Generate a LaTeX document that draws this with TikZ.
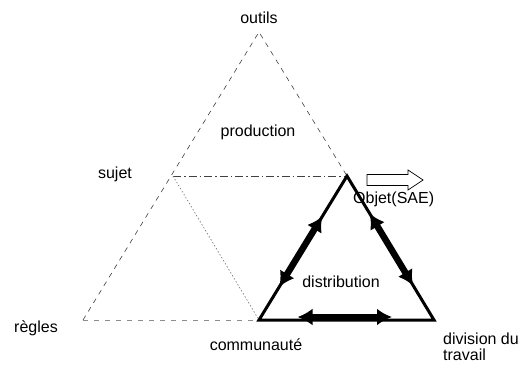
\documentclass[tikz,border=0pt]{standalone}
\usepackage{fontspec}
\setmainfont{Liberation Sans}
\usetikzlibrary{arrows.meta,calc}
\begin{document}
\begin{tikzpicture}[x=1pt,y=-1pt,
  lbl/.style={font=\fontsize{16}{18}\selectfont, inner sep=0pt},
  thin line/.style={draw=black!75, line width=0.6pt},
  dashline/.style={thin line, dash pattern=on 5pt off 5pt},
  greydash/.style={draw=black!45, line width=0.8pt, dash pattern=on 5pt off 6pt},
  dashdot/.style={thin line, dash pattern=on 8pt off 3pt on 1.5pt off 3pt},
  dotline/.style={draw=black!55, line width=0.6pt, dash pattern=on 1.5pt off 2pt},
  heavy/.style={draw=black, line width=3pt, line join=miter},
  dblarrow/.style={draw=black, line width=6.5pt, {Latex[length=15pt,width=17pt]}-{Latex[length=15pt,width=17pt]}},
  hollow/.style={draw=black, line width=0.7pt, fill=white}]
  \useasboundingbox (0,0) rectangle (521,366);

  % vertices of the activity triangle
  \coordinate (outils) at (259,32);
  \coordinate (sujet) at (173,176);
  \coordinate (objet) at (347,176);
  \coordinate (regles) at (83,320);
  \coordinate (comm) at (259,320);
  \coordinate (div) at (434,320);

  % dashed outer triangle and inner lines
  \draw[dashline] (regles) -- (outils) -- (objet);
  \draw[greydash] (regles) -- (comm);
  \draw[dashdot] (sujet) -- (objet);
  \draw[dotline] (sujet) -- (comm);

  % the distribution triangle
  \draw[heavy] (objet) -- (comm) -- (div) -- cycle;

  % two-way arrows along its sides
  \coordinate (la) at ($(objet)!0.28!(comm)$);
  \coordinate (lb) at ($(objet)!0.77!(comm)$);
  \coordinate (ra) at ($(objet)!0.26!(div)$);
  \coordinate (rb) at ($(objet)!0.76!(div)$);
  \coordinate (ba) at ($(comm)!0.22!(div)+(0,-3)$);
  \coordinate (bb) at ($(comm)!0.76!(div)+(0,-3)$);
  \draw[dblarrow] (la) -- (lb);
  \draw[dblarrow] (ra) -- (rb);
  \draw[dblarrow] (ba) -- (bb);

  % hollow arrow pointing out of the object
  \coordinate (ha) at (367,180);
  \draw[hollow] (ha) ++(0,-5.5) -- ++(41,0) -- ++(0,-4.5) -- (423,180)
    -- (408,190) -- ++(0,-4.5) -- ++(-41,0) -- cycle;

  % labels
  \node[lbl] (loutils) at (259,18) {outils};
  \node[lbl] (lprod) at (258,132) {production};
  \node[lbl] (lsujet) at (115,174) {sujet};
  \node[lbl, anchor=west] (lobjet) at (353,199) {Objet(SAE)};
  \node[lbl] (ldist) at (341,282) {distribution};
  \node[lbl] (lregles) at (36,328) {règles};
  \node[lbl] (lcomm) at (256,345) {communauté};
  \node[lbl, anchor=west, align=left, font=\fontsize{16}{16}\selectfont] (ldiv) at (443,347) {division du\\travail};
\end{tikzpicture}
\end{document}
